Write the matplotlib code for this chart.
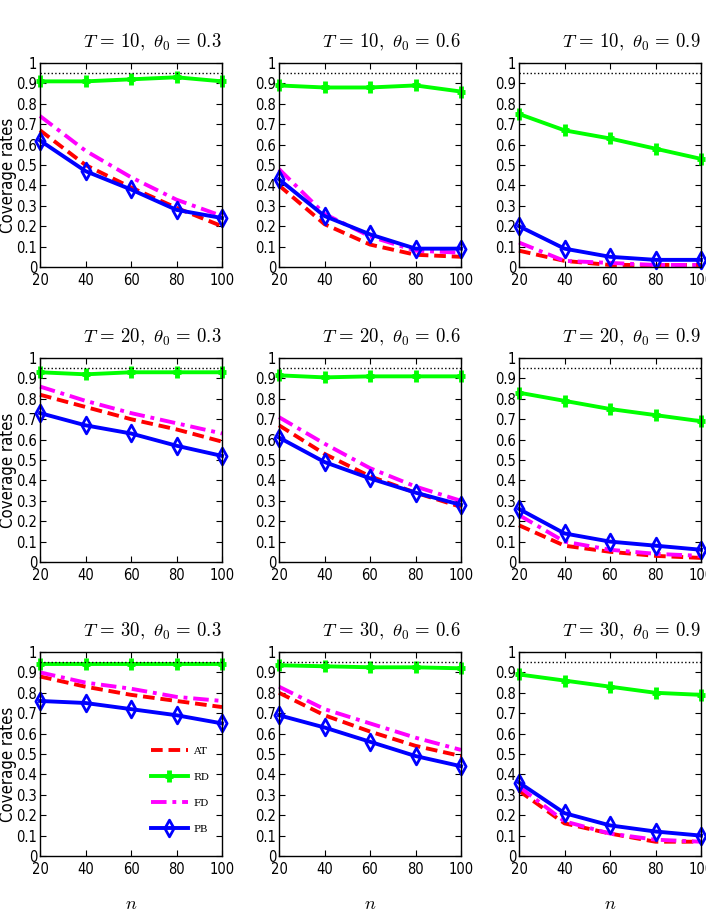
import numpy as np
import matplotlib.pyplot as plt
from matplotlib import font_manager
from matplotlib.path import Path

n = [20, 40, 60, 80, 100]
T_values = [10, 20, 30]
theta_values = [0.3, 0.6, 0.9]
nominal = 0.95

# one row per panel: T=10 (0.3, 0.6, 0.9), T=20 (...), T=30 (...)
AT = [[0.67, 0.50, 0.39, 0.29, 0.20],
      [0.40, 0.21, 0.11, 0.06, 0.05],
      [0.08, 0.03, 0.01, 0.01, 0.01],
      [0.82, 0.76, 0.70, 0.65, 0.59],
      [0.67, 0.53, 0.42, 0.34, 0.27],
      [0.18, 0.08, 0.05, 0.03, 0.02],
      [0.88, 0.83, 0.79, 0.76, 0.73],
      [0.80, 0.69, 0.61, 0.54, 0.49],
      [0.32, 0.16, 0.11, 0.07, 0.07]]
RD = [[0.91, 0.91, 0.92, 0.93, 0.91],
      [0.89, 0.88, 0.88, 0.89, 0.86],
      [0.75, 0.67, 0.63, 0.58, 0.53],
      [0.93, 0.92, 0.93, 0.93, 0.93],
      [0.915, 0.905, 0.91, 0.91, 0.91],
      [0.83, 0.79, 0.75, 0.72, 0.69],
      [0.94, 0.94, 0.94, 0.94, 0.94],
      [0.935, 0.93, 0.925, 0.925, 0.92],
      [0.89, 0.86, 0.83, 0.80, 0.79]]
FD = [[0.74, 0.57, 0.44, 0.33, 0.25],
      [0.48, 0.26, 0.15, 0.08, 0.07],
      [0.12, 0.03, 0.02, 0.01, 0.01],
      [0.86, 0.79, 0.73, 0.68, 0.63],
      [0.71, 0.58, 0.46, 0.37, 0.30],
      [0.23, 0.10, 0.06, 0.04, 0.03],
      [0.90, 0.85, 0.82, 0.78, 0.76],
      [0.83, 0.72, 0.65, 0.58, 0.52],
      [0.34, 0.17, 0.11, 0.08, 0.07]]
PB = [[0.62, 0.47, 0.38, 0.28, 0.24],
      [0.43, 0.25, 0.16, 0.09, 0.09],
      [0.20, 0.09, 0.05, 0.035, 0.035],
      [0.73, 0.67, 0.63, 0.57, 0.52],
      [0.61, 0.49, 0.41, 0.34, 0.28],
      [0.26, 0.14, 0.10, 0.08, 0.06],
      [0.76, 0.75, 0.72, 0.69, 0.65],
      [0.69, 0.63, 0.56, 0.49, 0.44],
      [0.36, 0.21, 0.15, 0.12, 0.10]]

plt.rcParams['mathtext.fontset'] = 'cm'

# pick a narrow sans if one is installed, the reference figure is squeezed sideways
fonts = font_manager.fontManager.ttflist
names = {f.name for f in fonts}
tick_font = {'family': ['Liberation Sans', 'DejaVu Sans']}
if 'Liberation Sans Narrow' in names:
    tick_font = {'family': ['Liberation Sans Narrow', 'DejaVu Sans']}
elif any(f.name == 'DejaVu Sans' and f.stretch == 'condensed' for f in fonts):
    tick_font = {'family': ['DejaVu Sans'], 'stretch': 'condensed'}

# tall markers (the picture is narrower than it is high)
tall_plus = Path([(0, -1), (0, 1), (-0.65, 0), (0.65, 0)],
                 [Path.MOVETO, Path.LINETO, Path.MOVETO, Path.LINETO])
tall_diamond = Path([(0, 1), (0.55, 0), (0, -1), (-0.55, 0), (0, 1)],
                    [Path.MOVETO, Path.LINETO, Path.LINETO, Path.LINETO, Path.CLOSEPOLY])

W, H = 706, 916
fig = plt.figure(figsize=(W / 100, H / 100), dpi=100)

lefts = [40, 279, 519]
tops = [63, 358, 652]
aw, ah = 182, 204

for i, T in enumerate(T_values):
    for j, theta in enumerate(theta_values):
        k = i * 3 + j
        ax = fig.add_axes([lefts[j] / W, 1 - (tops[i] + ah) / H, aw / W, ah / H])

        ax.plot(n, AT[k], color='#ff0000', lw=2.8, ls='--', dashes=(3, 1.5),
                label='AT', clip_on=False)
        ax.plot(n, RD[k], color='#00ff00', lw=2.8, marker=tall_plus, ms=9, mew=3.5,
                label='RD', clip_on=False)
        ax.plot(n, FD[k], color='#ff00ff', lw=2.8, ls='-.', dashes=(4, 1.5, 1, 1.5),
                label='FD', clip_on=False)
        ax.plot(n, PB[k], color='#0000ff', lw=2.8, marker=tall_diamond, ms=12, mew=2,
                mfc='none', label='PB', clip_on=False)
        ax.plot([n[0], n[-1]], [nominal, nominal], color='k', ls=':', lw=1)

        ax.set_xlim(20, 100)
        ax.set_ylim(0, 1)
        ax.set_xticks(n)
        yt = np.round(np.arange(0, 1.01, 0.1), 1)
        ax.set_yticks(yt)
        ax.set_yticklabels(['0'] + [f'{v:g}' for v in yt[1:-1]] + ['1'])
        ax.tick_params(direction='in', top=True, right=True, length=4, width=0.8,
                       labelsize=10.5, pad=2)
        ax.tick_params(axis='x', pad=4)
        for lab in ax.get_xticklabels() + ax.get_yticklabels():
            lab.set_family(tick_font['family'])
            if 'stretch' in tick_font:
                lab.set_stretch(tick_font['stretch'])
        for s in ax.spines.values():
            s.set_linewidth(1)

        ax.set_title(rf'$T\,=\,{T},\ \theta_0\,=\,{theta}$', loc='right',
                     fontsize=13.5, pad=11)
        if j == 0:
            ax.set_ylabel('Coverage rates', fontsize=12, **tick_font)
            ax.yaxis.set_label_coords(-0.125, 0.45)
        if i == 2:
            ax.set_xlabel(r'$n$', fontsize=13, labelpad=13)
        if k == 6:
            ax.legend(loc='lower right', bbox_to_anchor=(0.93, 0.11), frameon=False,
                      prop={'family': 'DejaVu Serif', 'size': 7.5}, handlelength=3.6,
                      labelspacing=1.6, handletextpad=0.5, borderaxespad=0,
                      borderpad=0)

fig.savefig('out.png', dpi=100)
